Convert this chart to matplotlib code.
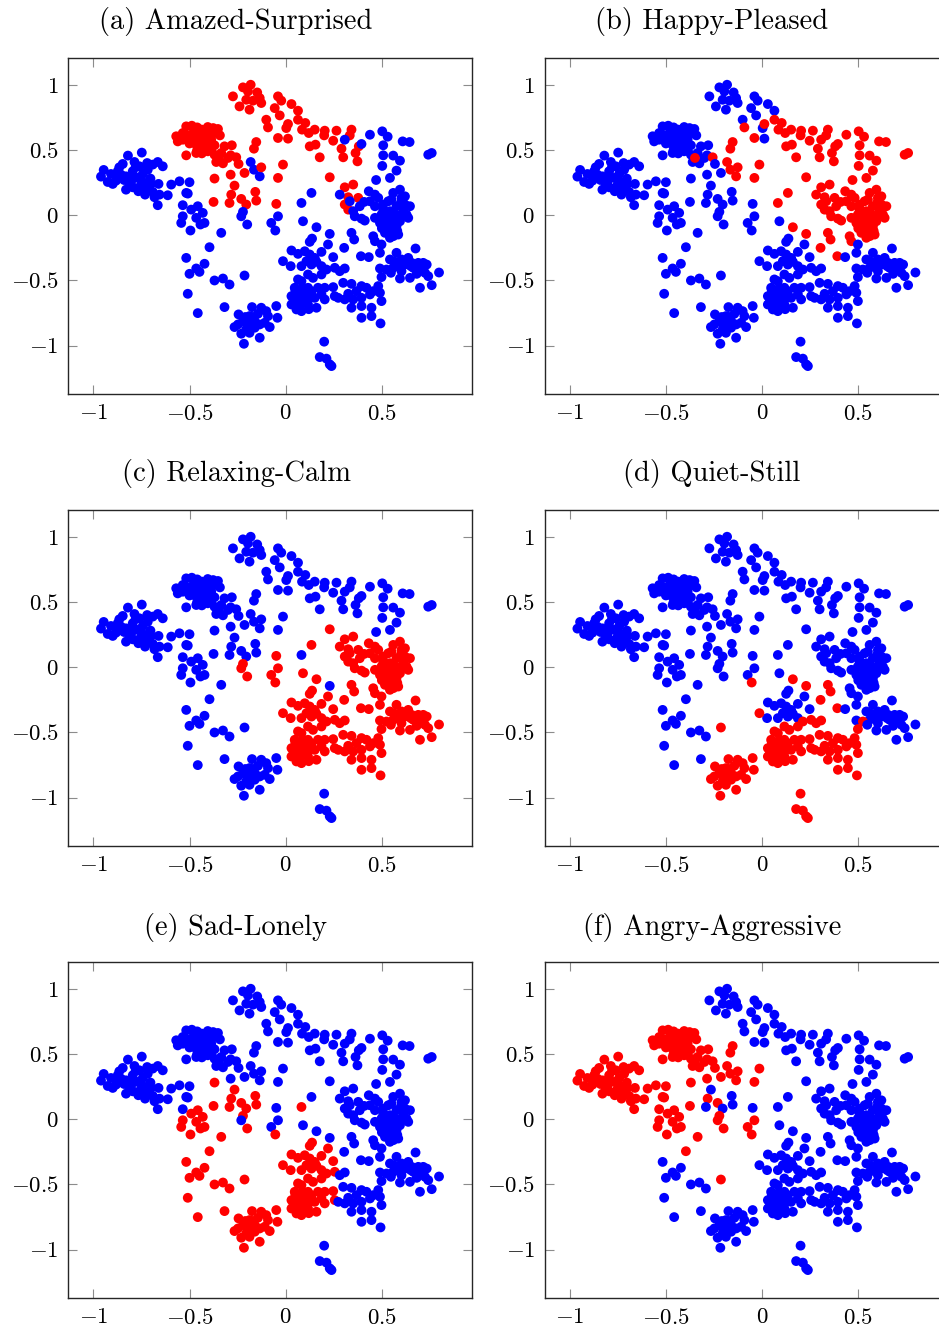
import numpy as np
import matplotlib
matplotlib.use("Agg")
import matplotlib.pyplot as plt
from matplotlib.ticker import FuncFormatter

plt.rcParams['font.family'] = 'serif'
plt.rcParams['font.serif'] = ['cmr10']
plt.rcParams['mathtext.fontset'] = 'cm'
plt.rcParams['axes.formatter.use_mathtext'] = True

# Embedded song positions (x, y) and the moods in which each point is tagged (red)
far_left = [
    (-0.82, 0.457, "f"), (-0.748, 0.48, "f"), (-0.946, 0.347, "f"), (-0.96, 0.296, "f"),
    (-0.908, 0.316, "f"), (-0.865, 0.367, "f"), (-0.847, 0.393, "f"), (-0.786, 0.408, "f"),
    (-0.76, 0.375, "f"), (-0.665, 0.408, "f"), (-0.639, 0.375, "f"), (-0.691, 0.388, "f"),
    (-0.717, 0.349, "f"), (-0.795, 0.337, "f"), (-0.83, 0.298, "f"), (-0.856, 0.311, "f"),
    (-0.882, 0.265, "f"), (-0.925, 0.255, "f"), (-0.899, 0.24, "f"), (-0.83, 0.196, "f"),
    (-0.804, 0.255, "f"), (-0.769, 0.286, "f"), (-0.743, 0.255, "f"), (-0.717, 0.214, "f"),
    (-0.691, 0.179, "f"), (-0.661, 0.24, "f"), (-0.656, 0.158, "f"), (-0.682, 0.138, "f"),
    (-0.731, 0.158, "f"), (-0.766, 0.184, "f"), (-0.795, 0.214, "f"), (-0.665, 0.077, "f"),
    (-0.613, 0.153, "f"), (-0.595, 0.235, "f"), (-0.552, 0.26, "f"), (-0.50, 0.253, "f"),
    (-0.509, 0.166, "f"), (-0.812, 0.24, "f"), (-0.76, 0.214, "f"), (-0.703, 0.281, "f"),
    (-0.743, 0.316, "f"), (-0.873, 0.337, "f"), (-0.88, 0.30, "f"), (-0.79, 0.29, "f"),
    (-0.75, 0.235, "f"), (-0.70, 0.24, "f"), (-0.73, 0.19, "f"), (-0.84, 0.27, "f"),
    (-0.78, 0.37, "f"), (-0.72, 0.40, "f"),
]

upper_left = [
    (-0.517, 0.681, "af"), (-0.488, 0.686, "af"), (-0.46, 0.673, "af"), (-0.436, 0.656, "af"),
    (-0.405, 0.676, "af"), (-0.377, 0.668, "af"), (-0.352, 0.661, "af"), (-0.569, 0.605, "af"),
    (-0.561, 0.566, "af"), (-0.535, 0.63, "af"), (-0.509, 0.612, "af"), (-0.481, 0.63, "af"),
    (-0.453, 0.592, "af"), (-0.429, 0.605, "af"), (-0.405, 0.622, "af"), (-0.37, 0.63, "af"),
    (-0.342, 0.612, "af"), (-0.474, 0.551, "af"), (-0.446, 0.546, "af"), (-0.422, 0.566, "af"),
    (-0.394, 0.554, "af"), (-0.37, 0.536, "af"), (-0.517, 0.459, "af"), (-0.465, 0.477, "af"),
    (-0.436, 0.474, "af"), (-0.405, 0.49, "af"), (-0.37, 0.464, "af"), (-0.335, 0.477, "af"),
    (-0.318, 0.528, "af"), (-0.28, 0.536, "af"), (-0.286, 0.459, "af"), (-0.361, 0.408, "af"),
    (-0.326, 0.398, "af"), (-0.30, 0.439, "af"), (-0.349, 0.439, "abf"), (-0.257, 0.444, "abf"),
    (-0.245, 0.393, "af"), (-0.495, 0.592, "af"), (-0.418, 0.515, "af"), (-0.387, 0.579, "af"),
    (-0.448, 0.643, "af"), (-0.535, 0.579, "af"), (-0.47, 0.66, "af"), (-0.43, 0.64, "af"),
    (-0.50, 0.55, "af"), (-0.42, 0.60, "af"), (-0.46, 0.50, "af"), (-0.39, 0.51, "af"),
]

top = [
    (-0.274, 0.911, "a"), (-0.222, 0.98, "a"), (-0.182, 1.0, "a"), (-0.196, 0.949, "a"),
    (-0.148, 0.941, "a"), (-0.135, 0.898, "a"), (-0.127, 0.86, "a"), (-0.24, 0.834, "a"),
    (-0.188, 0.809, "a"), (-0.205, 0.885, "a"), (-0.17, 0.878, "a"),
]

top_arc = [
    (-0.04, 0.911, "a"), (-0.023, 0.878, "a"), (0.03, 0.852, "a"), (0.064, 0.801, "a"),
    (-0.057, 0.821, "a"), (-0.031, 0.765, "a"), (-0.101, 0.732, "a"), (0.003, 0.668, "a"),
    (0.012, 0.587, "a"),
    (-0.092, 0.673, "ab"), (-0.04, 0.592, "ab"), (0.012, 0.699, "ab"), (0.064, 0.732, "ab"),
    (0.102, 0.707, "ab"), (0.085, 0.656, "ab"), (0.12, 0.63, "ab"), (0.151, 0.656, "ab"),
    (0.203, 0.648, "ab"), (0.20, 0.612, "ab"), (0.264, 0.648, "ab"), (0.342, 0.656, "ab"),
    (0.333, 0.612, "ab"), (0.247, 0.571, "ab"), (0.125, 0.528, "ab"), (0.155, 0.541, "ab"),
    (0.177, 0.444, "ab"), (0.29, 0.51, "ab"), (0.299, 0.444, "ab"), (0.363, 0.477, "ab"),
    (0.373, 0.413, "ab"), (0.38, 0.528, "ab"),
    (0.307, 0.579, "b"), (0.394, 0.546, "b"), (0.438, 0.617, "b"), (0.502, 0.643, "b"),
    (0.53, 0.602, "b"), (0.507, 0.536, "b"), (0.608, 0.566, "b"), (0.644, 0.561, "b"),
    (0.507, 0.459, "b"), (0.559, 0.457, "b"), (0.594, 0.418, "b"), (0.741, 0.464, "b"),
    (0.759, 0.477, "b"), (0.502, 0.378, "b"), (0.576, 0.342, "b"), (0.542, 0.286, "b"),
    (0.47, 0.27, "b"),
]

middle = [
    (-0.153, 0.561, "abf"), (-0.165, 0.51, "abf"), (-0.182, 0.408, "bf"), (-0.165, 0.349, "bf"),
    (-0.135, 0.298, "bf"), (-0.127, 0.367, "abf"), (-0.214, 0.324, "af"), (-0.014, 0.388, "abf"),
    (-0.04, 0.286, "abf"), (0.229, 0.291, "abc"), (0.134, 0.171, "bc"), (0.082, 0.094, "be"),
    (-0.37, 0.281, "aef"), (-0.286, 0.311, "af"), (-0.266, 0.227, "ae"), (-0.283, 0.158, "aef"),
    (-0.292, 0.094, "ae"), (-0.375, 0.102, "aef"), (-0.231, 0.125, "aef"), (-0.205, 0.082, "ae"),
    (-0.158, 0.179, "ae"), (-0.153, 0.112, "ae"), (-0.222, 0.026, "cef"), (-0.20, -0.071, "cef"),
    (-0.231, -0.008, "cf"), (-0.049, 0.087, "ac"), (-0.04, -0.008, "cf"), (-0.075, -0.059, "cf"),
    (-0.054, -0.117, "cdef"), (-0.535, 0.077, "f"), (-0.535, -0.008, "ef"), (-0.543, -0.059, "ef"),
    (-0.495, -0.117, "ef"), (-0.457, 0.069, "ef"), (-0.431, 0.018, "ef"), (-0.465, -0.02, "ef"),
    (-0.443, -0.071, "ef"), (-0.422, -0.059, "ef"), (-0.491, 0.043, "ef"), (-0.517, 0.171, "f"),
    (-0.335, -0.135, "ef"), (-0.396, -0.245, "ef"),
]

lower_left = [
    (-0.517, -0.327, "e"), (-0.422, -0.372, "e"), (-0.465, -0.408, "e"), (-0.50, -0.449, "e"),
    (-0.448, -0.434, "e"), (-0.37, -0.50, "e"), (-0.326, -0.485, "e"), (-0.292, -0.531, "e"),
    (-0.509, -0.602, "e"), (-0.457, -0.75, "e"), (-0.318, -0.704, "e"), (-0.214, -0.462, "def"),
]

lower_blob = [
    (-0.266, -0.857, "de"), (-0.245, -0.76, "de"), (-0.222, -0.811, "de"), (-0.196, -0.798, "de"),
    (-0.179, -0.837, "de"), (-0.161, -0.811, "de"), (-0.205, -0.875, "de"), (-0.231, -0.908, "de"),
    (-0.188, -0.901, "de"), (-0.161, -0.862, "de"), (-0.135, -0.837, "de"), (-0.109, -0.824, "de"),
    (-0.083, -0.857, "de"), (-0.135, -0.939, "de"), (-0.217, -0.985, "de"), (-0.175, -0.704, "de"),
    (-0.127, -0.709, "de"), (-0.101, -0.735, "de"), (-0.049, -0.696, "de"), (-0.043, -0.786, "de"),
    (-0.092, -0.773, "de"), (-0.144, -0.755, "de"), (-0.188, -0.773, "de"), (-0.248, -0.837, "de"),
    (-0.20, -0.84, "de"), (-0.17, -0.78, "de"), (-0.21, -0.78, "de"),
]

tail = [
    (0.20, -0.969, "d"), (0.177, -1.087, "d"), (0.212, -1.099, "d"), (0.229, -1.143, "d"),
    (0.238, -1.156, "d"),
]

mid_right = [
    (0.307, 0.214, "abc"), (0.351, 0.235, "abc"), (0.325, 0.138, "abc"), (0.377, 0.133, "abc"),
    (0.307, 0.082, "abc"), (0.325, 0.043, "abc"),
    (0.281, 0.158, "bc"), (0.351, 0.031, "bc"), (0.333, 0.107, "bc"), (0.385, 0.069, "bc"),
    (0.394, -0.026, "bc"), (0.359, -0.008, "bc"), (0.432, 0.184, "bc"), (0.464, 0.158, "bc"),
    (0.438, 0.107, "bc"), (0.481, 0.133, "bc"), (0.507, 0.082, "bc"), (0.464, 0.069, "bc"),
    (0.559, 0.171, "bc"), (0.594, 0.196, "bc"), (0.62, 0.145, "bc"), (0.646, 0.069, "bc"),
    (0.637, -0.02, "bc"), (0.542, 0.031, "bc"), (0.524, -0.008, "bc"), (0.498, 0.005, "bc"),
    (0.464, -0.02, "bc"), (0.49, -0.059, "bc"), (0.516, -0.097, "bc"), (0.542, -0.071, "bc"),
    (0.576, -0.084, "bc"), (0.594, -0.046, "bc"), (0.559, -0.122, "bc"), (0.585, -0.148, "bc"),
    (0.542, -0.173, "bc"), (0.455, -0.161, "bc"), (0.464, -0.199, "bc"), (0.498, -0.071, "bc"),
    (0.533, -0.033, "bc"), (0.568, 0.005, "bc"), (0.602, 0.005, "bc"), (0.611, 0.043, "bc"),
    (0.576, 0.069, "bc"), (0.533, 0.107, "bc"), (0.507, 0.043, "bc"), (0.411, -0.041, "bc"),
    (0.408, 0.102, "bc"), (0.602, 0.133, "bc"), (0.516, -0.135, "bc"), (0.62, 0.082, "bc"),
    (0.628, 0.005, "bc"), (0.55, -0.03, "bc"), (0.57, -0.06, "bc"), (0.52, 0.0, "bc"),
    (0.58, -0.12, "bc"), (0.56, -0.16, "bc"), (0.60, 0.10, "bc"), (0.55, 0.12, "bc"),
    (0.50, -0.10, "bc"),
    (0.16, -0.092, "bcd"), (0.229, -0.143, "bd"), (0.342, -0.135, "bcd"), (0.356, -0.186, "bcd"),
    (0.304, -0.25, "bcd"), (0.391, -0.314, "bcd"), (0.432, -0.321, "c"), (0.498, -0.224, "c"),
    (0.49, -0.288, "c"), (0.09, -0.046, "c"), (0.137, -0.179, "ce"), (0.125, -0.204, "ce"),
]

mid_bottom = [
    (0.03, -0.27, "ce"), (0.064, -0.296, "ce"), (0.099, -0.276, "ce"), (0.125, -0.301, "ce"),
    (0.151, -0.327, "ce"), (0.186, -0.281, "ce"), (0.22, -0.224, "ce"), (0.108, -0.352, "ce"),
    (0.082, -0.39, "ce"), (0.134, -0.378, "ce"), (0.16, -0.357, "ce"), (0.186, -0.39, "ce"),
    (0.247, -0.321, "ce"), (0.026, -0.39, "ce"),
    (-0.014, -0.352, "cde"), (0.212, -0.416, "cde"), (0.255, -0.403, "cde"), (0.064, -0.492, "cde"),
    (0.116, -0.454, "cde"), (0.142, -0.48, "cde"), (0.186, -0.454, "cde"), (0.064, -0.582, "cde"),
    (0.09, -0.556, "cde"), (0.047, -0.607, "cde"), (0.03, -0.684, "cde"), (0.056, -0.722, "cde"),
    (0.082, -0.735, "cde"), (0.116, -0.684, "cde"), (0.151, -0.633, "cde"), (0.186, -0.607, "cde"),
    (0.16, -0.709, "cde"), (0.203, -0.645, "cde"), (0.082, -0.658, "cde"), (0.099, -0.62, "cde"),
    (0.056, -0.658, "cde"), (0.168, -0.556, "cde"), (0.203, -0.556, "cde"), (0.116, -0.556, "cde"),
    (0.047, -0.556, "cde"), (0.03, -0.62, "cde"), (0.134, -0.582, "cde"), (0.082, -0.505, "cde"),
    (0.247, -0.551, "cde"), (0.255, -0.62, "cde"), (0.04, -0.64, "cde"), (0.07, -0.70, "cde"),
    (0.10, -0.67, "cde"), (0.13, -0.63, "cde"), (0.12, -0.72, "cde"), (0.08, -0.60, "cde"),
    (0.05, -0.57, "cde"),
    (0.273, -0.633, "cd"), (0.281, -0.429, "cd"), (0.307, -0.408, "cd"),
]

right_bottom = [
    (0.299, -0.518, "cd"), (0.342, -0.526, "cd"), (0.325, -0.602, "cd"), (0.307, -0.645, "cd"),
    (0.351, -0.645, "cd"), (0.342, -0.709, "cd"), (0.394, -0.543, "cd"), (0.42, -0.556, "cd"),
    (0.394, -0.633, "cd"), (0.438, -0.607, "cd"), (0.455, -0.582, "cd"), (0.481, -0.543, "cd"),
    (0.49, -0.594, "cd"), (0.498, -0.658, "cd"), (0.394, -0.696, "cd"), (0.446, -0.709, "cd"),
    (0.394, -0.786, "cd"), (0.446, -0.773, "cd"), (0.493, -0.829, "cd"), (0.368, -0.582, "cd"),
]

far_right = [
    (0.576, -0.288, "c"), (0.675, -0.255, "c"), (0.542, -0.339, "c"), (0.568, -0.357, "c"),
    (0.602, -0.339, "c"), (0.637, -0.327, "c"), (0.655, -0.365, "c"), (0.689, -0.365, "c"),
    (0.715, -0.365, "c"), (0.733, -0.378, "c"), (0.559, -0.403, "c"), (0.585, -0.39, "c"),
    (0.62, -0.378, "c"), (0.663, -0.403, "c"), (0.707, -0.416, "c"), (0.724, -0.441, "c"),
    (0.741, -0.467, "c"), (0.49, -0.408, "c"), (0.498, -0.474, "cd"), (0.524, -0.416, "cd"),
    (0.547, -0.441, "c"), (0.594, -0.485, "c"), (0.646, -0.48, "c"), (0.698, -0.556, "c"),
    (0.759, -0.536, "c"), (0.797, -0.439, "c"), (0.602, -0.429, "c"), (0.681, -0.449, "c"),
    (0.60, -0.36, "c"), (0.65, -0.39, "c"), (0.70, -0.39, "c"),
]

panels = ["a", "b", "c", "d", "e", "f"]
titles = ["(a) Amazed-Surprised", "(b) Happy-Pleased", "(c) Relaxing-Calm",
          "(d) Quiet-Still", "(e) Sad-Lonely", "(f) Angry-Aggressive"]
xticks = [-1, -0.5, 0, 0.5]
yticks = [-1, -0.5, 0, 0.5, 1]

points = (far_left + upper_left + top + top_arc + middle + lower_left + lower_blob
          + tail + mid_right + mid_bottom + right_bottom + far_right)
xs = np.array([p[0] for p in points])
ys = np.array([p[1] for p in points])
tags = [p[2] for p in points]

W, H = 939, 1329
fig = plt.figure(figsize=(W / 100, H / 100), dpi=100)

# panel geometry in pixels: left edges, top edges, size
lefts = [68.3, 544.7]
tops = [58, 510, 962]
aw, ah = 404, 336
title_x = [236, 712]
title_y = [22, 474, 927]

fmt = FuncFormatter(lambda v, pos: r"$%g$" % v)

for i, (key, title) in enumerate(zip(panels, titles)):
    row, col = divmod(i, 2)
    ax = fig.add_axes([lefts[col] / W, 1 - (tops[row] + ah) / H, aw / W, ah / H])
    colors = ["#ff0000" if key in t else "#0000ff" for t in tags]
    ax.scatter(xs, ys, c=colors, s=50, linewidths=0, zorder=2)
    ax.set_xlim(-1.13, 0.97)
    ax.set_ylim(-1.37, 1.205)
    ax.set_xticks(xticks)
    ax.set_yticks(yticks)
    ax.xaxis.set_major_formatter(fmt)
    ax.yaxis.set_major_formatter(fmt)
    ax.tick_params(direction="in", length=6.5, width=0.8, color="#8c8c8c",
                   top=True, right=True, labelsize=16.5, pad=7)
    for sp in ax.spines.values():
        sp.set_linewidth(1.0)
        sp.set_color("#262626")
    fig.text(title_x[col] / W, 1 - title_y[row] / H, title, ha="center", va="center",
             fontsize=20.5)

fig.savefig("out.png", dpi=100)
